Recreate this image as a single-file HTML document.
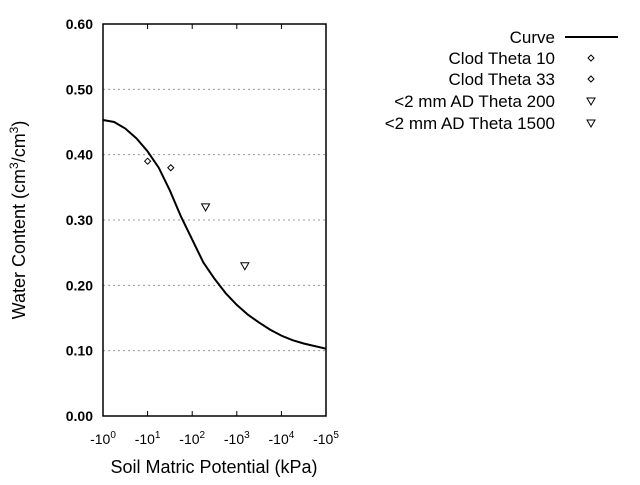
<!DOCTYPE html>
<html><head><meta charset="utf-8"><style>
body{margin:0;background:#fff;}
svg text{font-family:"Liberation Sans",sans-serif;fill:#000;}
</style></head><body>
<svg width="640" height="480" xmlns="http://www.w3.org/2000/svg">
<g id="grid"></g>
<g id="curve"></g>
<g id="pts"></g>
<rect x="103" y="24" width="223" height="392" fill="none" stroke="#000" stroke-width="1.5"/>
<g id="axes"></g>
<text transform="translate(25,220) rotate(-90)" text-anchor="middle" font-size="18">Water Content (cm<tspan font-size="12" dy="-7">3</tspan><tspan dy="7">/cm</tspan><tspan font-size="12" dy="-7">3</tspan><tspan dy="7">)</tspan></text>
<text x="214" y="473" text-anchor="middle" font-size="18">Soil Matric Potential (kPa)</text>
<g font-size="17" text-anchor="end">
<text x="555" y="43">Curve</text>
<line x1="565" y1="37" x2="618" y2="37" stroke="#000" stroke-width="2"/>
<text x="555" y="64">Clod Theta 10</text>
<path d="M591,55 l3,3 l-3,3 l-3,-3z" fill="none" stroke="#000"/>
<text x="555" y="85">Clod Theta 33</text>
<path d="M591,76 l3,3 l-3,3 l-3,-3z" fill="none" stroke="#000"/>
<text x="555" y="107">&lt;2 mm AD Theta 200</text>
<path d="M587,98 h8 l-4,7z" fill="none" stroke="#000"/>
<text x="555" y="129">&lt;2 mm AD Theta 1500</text>
<path d="M587,120 h8 l-4,7z" fill="none" stroke="#000"/>
</g>
</svg>
<script>
const curveLog=[0,0.25,0.5,0.75,1,1.25,1.5,1.75,2,2.25,2.5,2.75,3,3.25,3.5,3.75,4,4.25,4.5,4.75,5];
const curveTheta=[0.453,0.45,0.44,0.425,0.405,0.38,0.345,0.305,0.27,0.235,0.21,0.188,0.17,0.155,0.143,0.132,0.123,0.116,0.111,0.107,0.103];
const pointLog=[1,1.52,2.3,3.18];
const pointTheta=[0.39,0.38,0.32,0.23];
const pointShape=["diamond","diamond","triangle","triangle"];
const yTicks=[0,0.1,0.2,0.3,0.4,0.5,0.6];
const xTicks=[0,1,2,3,4,5];
const NS="http://www.w3.org/2000/svg";
const X=v=>103+v*223/5, Y=v=>416-v*392/0.6;
function mk(t,a,p){const e=document.createElementNS(NS,t);for(const k in a)e.setAttribute(k,a[k]);p.appendChild(e);return e;}
const grid=document.getElementById('grid'),axes=document.getElementById('axes');
yTicks.forEach(v=>{
 if(v>0&&v<0.6){const l=mk('line',{x1:103,x2:326,y1:Y(v),y2:Y(v),stroke:'#999','stroke-dasharray':'2,3'},grid);
 
 }
 const t=mk('text',{x:93,y:Y(v)+5,'text-anchor':'end','font-size':'14','font-weight':'bold'},axes);
 t.textContent=v.toFixed(2);
 
 
});
xTicks.forEach(v=>{
 mk('line',{x1:X(v),x2:X(v),y1:416,y2:411,stroke:'#000'},axes);
 mk('line',{x1:X(v),x2:X(v),y1:24,y2:29,stroke:'#000'},axes);
 const t=mk('text',{x:X(v),y:444,'text-anchor':'middle','font-size':'14'},axes);
 t.innerHTML='-10<tspan font-size="10" dy="-6">'+v+'</tspan>';
 
 
});
const line=mk('polyline',{points:curveLog.map((l,i)=>X(l)+','+Y(curveTheta[i])).join(' '),fill:'none',stroke:'#000','stroke-width':2},document.getElementById('curve'));


const pg=document.getElementById('pts');
pointLog.forEach((l,i)=>{
 const x=X(l),y=Y(pointTheta[i]);
 const d=pointShape[i]=='diamond'?`M${x},${y-3} l3,3 l-3,3 l-3,-3z`:`M${x-4},${y-3} h8 l-4,7z`;
 const p=mk('path',{d:d,fill:'none',stroke:'#000'},pg);
 
 
});
</script>
</body></html>
